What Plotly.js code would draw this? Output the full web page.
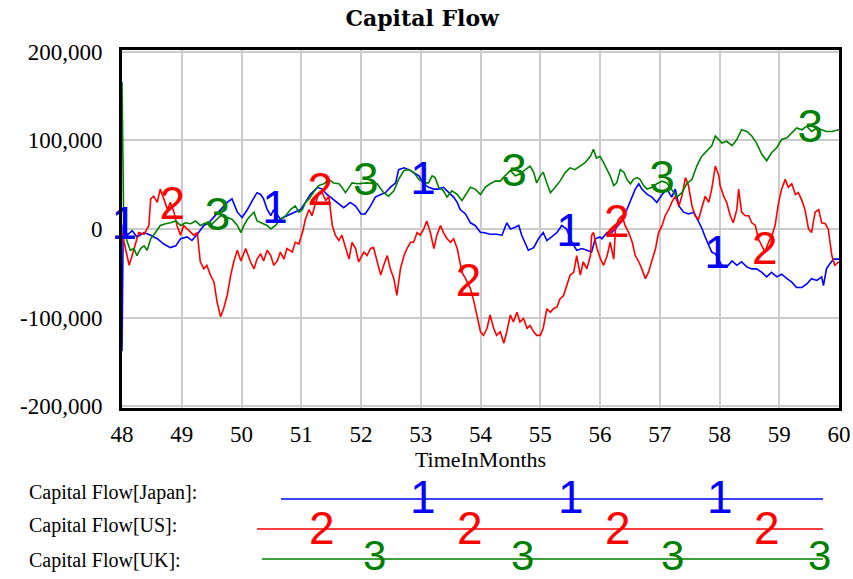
<!DOCTYPE html>
<html>
<head>
<meta charset="utf-8">
<script src="https://cdn.plot.ly/plotly-3.0.1.min.js"></script>
<style>html,body{margin:0;padding:0;background:#fff;}#chart{width:853px;height:579px;}</style>
</head>
<body>
<div id="chart"></div>
<script>
// ---- Data ----
const seriesNames = ["Capital Flow[Japan]", "Capital Flow[US]", "Capital Flow[UK]"];
const seriesDigits = ["1", "2", "3"];

const japanT = [48.0,48.02,48.09,48.17,48.25,48.37,48.48,48.59,48.7,48.81,48.9,48.98,49.09,49.17,49.26,49.37,49.45,49.56,49.65,49.76,49.84,49.93,50.01,50.1,50.18,50.26,50.32,50.37,50.43,50.49,50.54,50.65,50.76,50.88,50.99,51.07,51.15,51.27,51.35,51.43,51.52,51.6,51.71,51.82,51.91,52.0,52.07,52.16,52.24,52.33,52.41,52.49,52.58,52.63,52.72,52.8,52.88,52.97,53.05,53.13,53.22,53.3,53.38,53.47,53.55,53.61,53.66,53.75,53.83,53.91,54.0,54.05,54.16,54.27,54.36,54.44,54.5,54.58,54.64,54.69,54.75,54.8,54.89,54.97,55.05,55.11,55.19,55.28,55.36,55.44,55.53,55.61,55.7,55.78,55.86,55.92,56.0,56.03,56.12,56.2,56.28,56.37,56.45,56.53,56.59,56.65,56.7,56.79,56.87,56.95,57.04,57.12,57.2,57.26,57.32,57.4,57.48,57.57,57.65,57.71,57.76,57.82,57.87,57.93,58.04,58.12,58.21,58.29,58.37,58.46,58.54,58.62,58.71,58.79,58.87,58.96,59.04,59.13,59.21,59.29,59.38,59.46,59.54,59.63,59.71,59.74,59.79,59.85,59.91,60.0];
const japanV = [-138000,5000,-7000,-2000,-9000,-4000,-7000,-11000,-17000,-21000,-19000,-11000,-9000,-13000,-6000,4000,7000,15000,22000,30000,34000,19000,13000,22000,32000,41000,39000,34000,22000,15000,22000,11000,15000,19000,22000,30000,39000,47000,45000,39000,34000,30000,24000,30000,26000,17000,17000,26000,36000,39000,41000,47000,52000,67000,69000,67000,64000,60000,51000,47000,45000,45000,47000,41000,36000,30000,22000,17000,7000,4000,-4000,-4000,-6000,-6000,-7000,7000,0,2000,4000,-7000,-17000,-24000,-21000,-11000,-4000,-13000,-9000,-4000,4000,0,-15000,-24000,-22000,-24000,-26000,-11000,-9000,-11000,-4000,-4000,2000,9000,22000,36000,45000,51000,45000,39000,36000,30000,39000,45000,36000,45000,26000,19000,17000,19000,9000,0,-9000,-19000,-26000,-28000,-41000,-43000,-36000,-41000,-37000,-43000,-45000,-45000,-49000,-54000,-49000,-54000,-51000,-56000,-60000,-66000,-66000,-62000,-56000,-58000,-54000,-64000,-45000,-39000,-34000,-34000];

const usT = [48.0,48.06,48.12,48.17,48.23,48.28,48.37,48.45,48.48,48.53,48.59,48.64,48.7,48.76,48.81,48.87,48.92,48.98,49.03,49.09,49.15,49.2,49.26,49.31,49.37,49.42,49.48,49.54,49.59,49.65,49.7,49.76,49.82,49.87,49.93,49.99,50.07,50.15,50.21,50.26,50.32,50.37,50.43,50.49,50.54,50.6,50.65,50.71,50.76,50.85,50.9,50.96,51.02,51.07,51.13,51.18,51.24,51.29,51.35,51.41,51.46,51.52,51.57,51.63,51.68,51.74,51.8,51.85,51.91,51.96,52.05,52.1,52.16,52.21,52.27,52.33,52.38,52.44,52.49,52.55,52.6,52.66,52.72,52.77,52.83,52.88,52.94,52.99,53.05,53.1,53.16,53.22,53.27,53.33,53.38,53.44,53.5,53.55,53.61,53.64,53.69,53.75,53.83,53.89,53.94,54.0,54.05,54.11,54.16,54.22,54.27,54.33,54.39,54.44,54.5,54.55,54.61,54.66,54.72,54.78,54.83,54.89,54.94,55.0,55.05,55.11,55.17,55.22,55.28,55.33,55.39,55.44,55.5,55.56,55.61,55.67,55.72,55.78,55.84,55.86,55.89,55.95,56.01,56.06,56.12,56.17,56.23,56.26,56.31,56.37,56.42,56.48,56.54,56.59,56.65,56.7,56.76,56.81,56.87,56.93,56.98,57.04,57.09,57.15,57.2,57.26,57.32,57.37,57.43,57.48,57.54,57.59,57.65,57.71,57.76,57.82,57.87,57.93,57.99,58.01,58.07,58.12,58.18,58.23,58.29,58.32,58.37,58.43,58.49,58.54,58.6,58.65,58.71,58.76,58.82,58.88,58.93,58.99,59.04,59.1,59.15,59.21,59.27,59.32,59.38,59.43,59.49,59.54,59.6,59.66,59.71,59.77,59.82,59.88,59.93,60.0];
const usV = [-4000,-22000,-41000,-30000,-15000,-4000,-6000,4000,34000,37000,30000,45000,34000,22000,30000,19000,4000,-7000,4000,0,-4000,-7000,-4000,-37000,-45000,-41000,-52000,-60000,-82000,-99000,-90000,-75000,-52000,-37000,-24000,-36000,-22000,-37000,-45000,-34000,-28000,-36000,-24000,-30000,-41000,-36000,-26000,-34000,-22000,-26000,-15000,-17000,-4000,11000,22000,15000,30000,39000,41000,32000,37000,4000,-7000,-13000,-7000,-22000,-34000,-15000,-22000,-37000,-26000,-30000,-22000,-21000,-37000,-52000,-41000,-30000,-45000,-56000,-75000,-45000,-30000,-22000,-15000,-15000,-4000,-7000,0,9000,-4000,-22000,-7000,4000,-4000,-11000,-15000,-11000,-22000,-34000,-49000,-56000,-67000,-82000,-97000,-116000,-120000,-112000,-97000,-112000,-120000,-116000,-129000,-116000,-97000,-105000,-94000,-105000,-101000,-112000,-109000,-116000,-120000,-120000,-112000,-90000,-94000,-90000,-88000,-79000,-75000,-64000,-52000,-49000,-30000,-52000,-37000,-45000,-30000,-7000,-4000,-22000,-34000,-41000,-30000,-15000,-34000,0,11000,15000,4000,-4000,-15000,-30000,-37000,-45000,-56000,-49000,-36000,-22000,-4000,4000,15000,22000,30000,37000,26000,37000,58000,49000,26000,15000,11000,26000,37000,30000,45000,71000,60000,49000,37000,30000,15000,7000,22000,45000,19000,15000,15000,7000,4000,-11000,-19000,-26000,-15000,-7000,4000,30000,45000,56000,47000,51000,39000,41000,32000,22000,0,-4000,19000,22000,7000,6000,0,-30000,-41000,-37000];

const ukT = [48.0,48.02,48.03,48.09,48.14,48.2,48.25,48.31,48.37,48.42,48.48,48.56,48.64,48.73,48.81,48.9,48.98,49.06,49.15,49.23,49.31,49.4,49.48,49.56,49.65,49.76,49.84,49.93,49.99,50.04,50.1,50.15,50.21,50.26,50.32,50.37,50.43,50.49,50.57,50.65,50.74,50.82,50.9,50.96,51.02,51.07,51.13,51.18,51.24,51.29,51.38,51.46,51.54,51.63,51.68,51.74,51.8,51.85,51.94,52.1,52.27,52.38,52.46,52.55,52.63,52.72,52.8,52.88,52.97,53.05,53.13,53.19,53.24,53.3,53.38,53.44,53.52,53.61,53.69,53.75,53.83,53.91,54.0,54.08,54.16,54.25,54.33,54.41,54.5,54.58,54.66,54.75,54.83,54.89,54.94,55.0,55.05,55.11,55.17,55.25,55.33,55.42,55.5,55.58,55.67,55.75,55.84,55.89,55.94,56.0,56.06,56.12,56.17,56.23,56.28,56.34,56.4,56.45,56.51,56.56,56.62,56.67,56.73,56.79,56.87,56.95,57.04,57.12,57.2,57.29,57.37,57.45,57.54,57.62,57.7,57.79,57.87,57.93,58.04,58.12,58.21,58.29,58.37,58.46,58.54,58.62,58.71,58.79,58.87,58.96,59.04,59.13,59.21,59.29,59.38,59.46,59.54,59.63,59.71,59.79,59.88,60.0];
const ukV = [166000,4000,0,-15000,-24000,-22000,-30000,-22000,-19000,-24000,-11000,-4000,4000,6000,7000,9000,4000,7000,6000,9000,4000,7000,4000,9000,15000,13000,11000,4000,-4000,4000,11000,15000,19000,9000,7000,6000,4000,0,4000,11000,15000,22000,26000,19000,22000,30000,34000,39000,45000,49000,51000,56000,52000,51000,47000,41000,47000,52000,51000,52000,51000,41000,37000,43000,56000,66000,67000,64000,56000,52000,52000,60000,58000,47000,43000,36000,43000,39000,32000,39000,47000,45000,39000,47000,51000,54000,54000,60000,66000,60000,62000,67000,71000,64000,52000,60000,64000,52000,41000,47000,54000,64000,69000,67000,71000,75000,82000,90000,80000,82000,75000,67000,60000,49000,52000,67000,64000,56000,51000,56000,58000,56000,49000,45000,47000,51000,54000,52000,45000,36000,41000,51000,56000,71000,82000,88000,94000,105000,97000,99000,94000,101000,112000,110000,105000,97000,84000,77000,86000,92000,101000,103000,109000,114000,112000,116000,110000,114000,112000,110000,110000,112000];

// times at which the series number labels sit on each curve
const japanLabelT = [48.04, 50.56, 53.04, 55.48, 57.96];
const usLabelT = [48.84, 51.32, 53.8, 56.28, 58.76];
const ukLabelT = [49.6, 52.08, 54.56, 57.04, 59.52];

const xTicks = [48,49,50,51,52,53,54,55,56,57,58,59,60];
const yTicks = [-200000,-100000,0,100000,200000];
const yTickText = ["-200,000","-100,000","0","100,000","200,000"];

// ---- Helpers ----
function interp(ts, vs, t) {
  for (let i = 1; i < ts.length; i++) {
    if (t <= ts[i]) {
      const f = (t - ts[i-1]) / (ts[i] - ts[i-1]);
      return vs[i-1] + f * (vs[i] - vs[i-1]);
    }
  }
  return vs[vs.length-1];
}

const colors = ["#0000ff", "#ff0000", "#008000"];
const allT = [japanT, usT, ukT];
const allV = [japanV, usV, ukV];
const allLabT = [japanLabelT, usLabelT, ukLabelT];

const traces = [];
for (let s = 0; s < 3; s++) {
  traces.push({
    type: "scatter", mode: "lines", x: allT[s], y: allV[s], name: seriesNames[s],
    line: {color: colors[s], width: 1.6}, hoverinfo: "skip"
  });
}
for (let s = 0; s < 3; s++) {
  traces.push({
    type: "scatter", mode: "text", x: allLabT[s],
    y: allLabT[s].map(t => interp(allT[s], allV[s], t)),
    text: allLabT[s].map(() => seriesDigits[s]),
    textposition: "middle center",
    textfont: {family: "Liberation Sans, Arial, sans-serif", size: 46, color: colors[s]},
    hoverinfo: "skip", showlegend: false, cliponaxis: false
  });
}

// ---- Custom legend below plot (paper coordinates) ----
const plotL = 122, plotR = 839, plotT = 50, plotB = 408;
const px = v => (v - plotL) / (plotR - plotL);
const py = v => (plotB - v) / (plotB - plotT);
const legRows = [
  {label: "Capital Flow[Japan]:", ly: 492, lineY: 499, x0: 281, x1: 823, digitX: [423, 571, 720], digitY: 497, size: 46},
  {label: "Capital Flow[US]:", ly: 525, lineY: 529, x0: 257, x1: 823, digitX: [322, 470, 618, 767], digitY: 528, size: 46},
  {label: "Capital Flow[UK]:", ly: 560, lineY: 559, x0: 262, x1: 823, digitX: [374, 522, 672, 819], digitY: 555, size: 42}
];
const shapes = [];
const annotations = [];
legRows.forEach((r, s) => {
  shapes.push({type: "line", xref: "paper", yref: "paper", x0: px(r.x0), x1: px(r.x1), y0: py(r.lineY), y1: py(r.lineY),
    line: {color: colors[s], width: 1.6}});
  annotations.push({xref: "paper", yref: "paper", x: px(27), y: py(r.ly), xanchor: "left", yanchor: "middle",
    text: r.label, showarrow: false, font: {family: "Liberation Serif, Times New Roman, serif", size: 20, color: "#000"}});
  r.digitX.forEach(dx => {
    annotations.push({xref: "paper", yref: "paper", x: px(dx), y: py(r.digitY), xanchor: "center", yanchor: "middle",
      text: seriesDigits[s], showarrow: false, font: {family: "Liberation Sans, Arial, sans-serif", size: r.size, color: colors[s]}});
  });
});

const layout = {
  width: 853, height: 579,
  margin: {l: plotL, r: 853 - plotR, t: plotT, b: 579 - plotB, pad: 0},
  paper_bgcolor: "#ffffff", plot_bgcolor: "#ffffff",
  showlegend: false,
  title: {text: "Capital Flow", x: 0.495, xref: "container", xanchor: "center", y: 1 - 18/579, yanchor: "middle",
    font: {family: "DejaVu Serif, serif", size: 22, weight: "bold", color: "#000"}},
  xaxis: {
    range: [48, 60], tickvals: xTicks, ticktext: xTicks.map(String),
    showgrid: true, gridcolor: "#cccccc", gridwidth: 2,
    showline: true, linecolor: "#000", linewidth: 3, mirror: true,
    ticks: "outside", ticklen: 3, tickcolor: "rgba(0,0,0,0)", zeroline: false,
    tickfont: {family: "Liberation Serif, Times New Roman, serif", size: 23, color: "#000"},
    title: {text: "TimeInMonths", standoff: 3, font: {family: "Liberation Serif, Times New Roman, serif", size: 22, color: "#000"}}
  },
  yaxis: {
    range: [-202000, 202000], tickvals: yTicks, ticktext: yTickText,
    showgrid: true, gridcolor: "#cccccc", gridwidth: 2,
    showline: true, linecolor: "#000", linewidth: 3, mirror: true,
    ticks: "outside", ticklen: 12, tickcolor: "rgba(0,0,0,0)", zeroline: false,
    tickfont: {family: "Liberation Serif, Times New Roman, serif", size: 23, color: "#000"}
  },
  shapes: shapes,
  annotations: annotations
};

Plotly.newPlot("chart", traces, layout, {displayModeBar: false, staticPlot: true});
</script>
</body>
</html>
